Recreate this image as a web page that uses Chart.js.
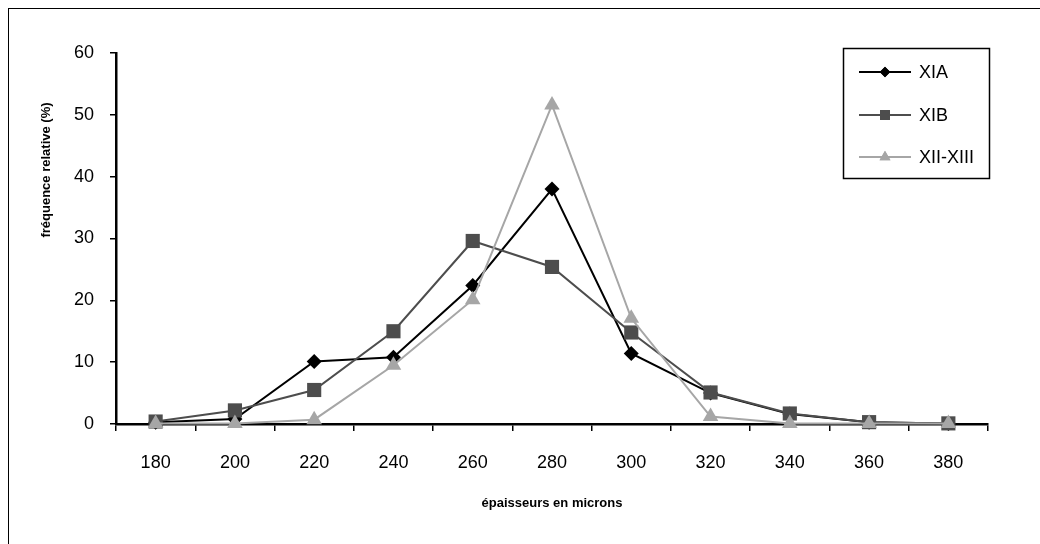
<!DOCTYPE html>
<html>
<head>
<meta charset="utf-8">
<script src="https://cdn.jsdelivr.net/npm/chart.js@4"></script>
<style>
html,body{margin:0;padding:0;background:#fff;}
#wrap{width:1040px;height:544px;position:relative;}
</style>
</head>
<body>
<div id="wrap"><canvas id="c" width="1040" height="544"></canvas></div>
<script>
// ---- data ----
const categories = ['180','200','220','240','260','280','300','320','340','360','380'];
const seriesNames = ['XIA','XIB','XII-XIII'];
const valuesXIA  = [0.3, 0.8, 10.1, 10.8, 22.4, 38.0, 11.4, 5.0, 1.6, 0.3, 0.1];
const valuesXIB  = [0.4, 2.2, 5.5, 15.0, 29.6, 25.4, 14.8, 5.1, 1.7, 0.3, 0.1];
const valuesXII  = [0.1, 0.1, 0.7, 9.5, 20.1, 51.6, 17.1, 1.2, 0.1, 0.1, 0.1];
const yTicks = [0, 10, 20, 30, 40, 50, 60];
const xTitle = 'épaisseurs en microns';
const yTitle = 'fréquence relative (%)';

const styles = [
  {color:'#000000', point:'rectRot', radius:7.5},
  {color:'#4d4d4d', point:'rect', radius:10},
  {color:'#a6a6a6', point:'triangle', radius:9}
];
const seriesValues = [valuesXIA, valuesXIB, valuesXII];

const datasets = seriesNames.map((n,i)=>({
  label:n,
  data:seriesValues[i],
  order:seriesNames.length-1-i,
  borderColor:styles[i].color,
  backgroundColor:styles[i].color,
  pointBackgroundColor:styles[i].color,
  pointBorderColor:styles[i].color,
  pointStyle:styles[i].point,
  pointRadius:styles[i].radius,
  pointHoverRadius:styles[i].radius,
  pointBorderWidth:0,
  borderWidth:2,
  tension:0,
  clip:false
}));

const FONT = '"Liberation Sans", Arial, sans-serif';

const decor = {
  id:'decor',
  beforeDraw(chart){
    const ctx = chart.ctx;
    ctx.save();
    ctx.fillStyle='#fff';
    ctx.fillRect(0,0,chart.width,chart.height);
    ctx.strokeStyle='#000';
    ctx.lineWidth=1;
    ctx.strokeRect(8.5,8.5,1100,700);
    ctx.restore();
  },
  afterDraw(chart){
    const ctx = chart.ctx;
    const ca = chart.chartArea;
    ctx.save();
    // axis titles
    ctx.fillStyle='#000';
    ctx.font='bold 13px '+FONT;
    ctx.textAlign='center';
    ctx.textBaseline='middle';
    ctx.fillText(xTitle,(ca.left+ca.right)/2,503);
    ctx.save();
    ctx.translate(46,170);
    ctx.rotate(-Math.PI/2);
    ctx.fillText(yTitle,0,0);
    ctx.restore();
    // legend
    const bx=843.5, by=48.5, bw=146, bh=130;
    ctx.strokeStyle='#000';
    ctx.lineWidth=1.5;
    ctx.strokeRect(bx,by,bw,bh);
    const rows=[72,115,157];
    chart.data.datasets.forEach((ds,i)=>{
      const y=rows[i];
      ctx.strokeStyle=ds.borderColor;
      ctx.lineWidth=2;
      ctx.beginPath();ctx.moveTo(859,y);ctx.lineTo(911,y);ctx.stroke();
      ctx.fillStyle=ds.borderColor;
      Chart.helpers.drawPoint(ctx,{pointStyle:ds.pointStyle,radius:ds.pointRadius*0.7,borderWidth:0,rotation:0},885,y);
      ctx.fill();
      ctx.fillStyle='#000';
      ctx.font='18px '+FONT;
      ctx.textAlign='left';
      ctx.textBaseline='middle';
      ctx.fillText(ds.label,919,y+1,67);
    });
    ctx.restore();
  }
};

new Chart(document.getElementById('c'),{
  type:'line',
  data:{labels:categories,datasets:datasets},
  plugins:[decor],
  options:{
    responsive:false,
    animation:false,
    events:[],
    layout:{padding:{left:0,top:53,right:52,bottom:0}},
    plugins:{legend:{display:false},tooltip:{enabled:false}},
    scales:{
      x:{
        offset:true,
        grid:{offset:true,drawOnChartArea:false,drawTicks:true,tickLength:7,color:'#000',lineWidth:1.5},
        border:{display:true,color:'#000',width:2.5},
        ticks:{color:'#000',font:{family:FONT,size:18},padding:21,maxRotation:0,autoSkip:false},
        afterFit(s){s.height=120;}
      },
      y:{
        min:0,max:60,
        afterBuildTicks(s){s.ticks=yTicks.map(v=>({value:v}));},
        grid:{drawOnChartArea:false,drawTicks:true,tickLength:6,color:'#000',lineWidth:1.5},
        border:{display:true,color:'#000',width:2.5},
        ticks:{color:'#000',font:{family:FONT,size:18},padding:16},
        afterFit(s){s.width=116;}
      }
    }
  }
});
</script>
</body>
</html>
